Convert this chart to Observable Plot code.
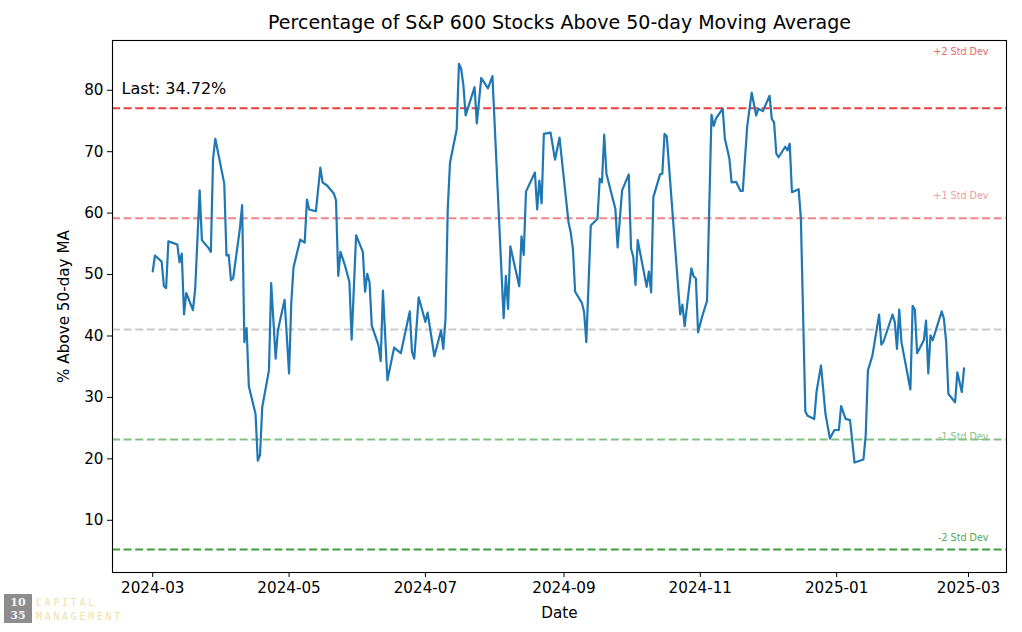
<!DOCTYPE html>
<html>
<head>
<meta charset="utf-8">
<script src="https://cdn.jsdelivr.net/npm/d3@7"></script>
<script src="https://cdn.jsdelivr.net/npm/@observablehq/plot@0.6"></script>
<style>
  html, body { margin: 0; padding: 0; background: #fff; }
  #wrap { position: relative; width: 1022px; height: 632px; overflow: hidden; }
  #logo-box { position: absolute; left: 4px; top: 594px; width: 28px; height: 29px; background: #8d8d8d;
    color: #f4f4f4; font-family: "DejaVu Serif", "Liberation Serif", serif; font-weight: bold; font-size: 11px;
    line-height: 13px; text-align: center; padding-top: 2px; box-sizing: border-box; }
  .logo-txt { position: absolute; left: 36px; font-family: "DejaVu Sans Mono", monospace; font-size: 9.8px;
    letter-spacing: 2.8px; color: #efe0a8; }
</style>
</head>
<body>
<div id="wrap">
  <div id="chart"></div>
  <div id="logo-box">10<br>35</div>
  <div class="logo-txt" style="top:597px">CAPITAL</div>
  <div class="logo-txt" style="top:611px">MANAGEMENT</div>
</div>
<script>
const title = "Percentage of S&P 600 Stocks Above 50-day Moving Average";
const xLabel = "Date";
const yLabel = "% Above 50-day MA";

const dates = [
  "2024-03-01","2024-03-02","2024-03-05","2024-03-06","2024-03-07","2024-03-08","2024-03-12","2024-03-13","2024-03-14","2024-03-15",
  "2024-03-16","2024-03-19","2024-03-20","2024-03-22","2024-03-23","2024-03-26","2024-03-27","2024-03-28","2024-03-29","2024-04-02",
  "2024-04-03","2024-04-04","2024-04-05","2024-04-06","2024-04-09","2024-04-10","2024-04-11","2024-04-12","2024-04-13","2024-04-16",
  "2024-04-17","2024-04-18","2024-04-19","2024-04-22","2024-04-23","2024-04-25","2024-04-26","2024-04-29","2024-05-01","2024-05-02",
  "2024-05-03","2024-05-06","2024-05-08","2024-05-09","2024-05-10","2024-05-13","2024-05-15","2024-05-16","2024-05-18","2024-05-21",
  "2024-05-22","2024-05-23","2024-05-24","2024-05-26","2024-05-28","2024-05-29","2024-05-31","2024-06-03","2024-06-04","2024-06-05",
  "2024-06-06","2024-06-07","2024-06-10","2024-06-11","2024-06-12","2024-06-14","2024-06-17","2024-06-20","2024-06-24","2024-06-25",
  "2024-06-26","2024-06-28","2024-07-01","2024-07-02","2024-07-05","2024-07-08","2024-07-09","2024-07-10","2024-07-11","2024-07-12",
  "2024-07-15","2024-07-16","2024-07-17","2024-07-18","2024-07-19","2024-07-23","2024-07-24","2024-07-26","2024-07-29","2024-07-31",
  "2024-08-03","2024-08-05","2024-08-06","2024-08-07","2024-08-08","2024-08-12","2024-08-13","2024-08-14","2024-08-15","2024-08-19",
  "2024-08-20","2024-08-21","2024-08-22","2024-08-23","2024-08-26","2024-08-28","2024-08-30","2024-09-03","2024-09-04","2024-09-05",
  "2024-09-06","2024-09-09","2024-09-10","2024-09-11","2024-09-13","2024-09-16","2024-09-17","2024-09-18","2024-09-19","2024-09-20",
  "2024-09-23","2024-09-24","2024-09-25","2024-09-27","2024-09-30","2024-10-01","2024-10-02","2024-10-03","2024-10-04","2024-10-08",
  "2024-10-09","2024-10-10","2024-10-11","2024-10-14","2024-10-15","2024-10-16","2024-10-17","2024-10-23","2024-10-24","2024-10-25",
  "2024-10-28","2024-10-29","2024-10-30","2024-10-31","2024-11-02","2024-11-04","2024-11-06","2024-11-07","2024-11-08","2024-11-11",
  "2024-11-12","2024-11-14","2024-11-15","2024-11-17","2024-11-19","2024-11-20","2024-11-22","2024-11-24","2024-11-26","2024-11-27",
  "2024-11-29","2024-12-02","2024-12-03","2024-12-04","2024-12-05","2024-12-06","2024-12-09","2024-12-10","2024-12-11","2024-12-12",
  "2024-12-15","2024-12-16","2024-12-18","2024-12-19","2024-12-22","2024-12-23","2024-12-25","2024-12-27","2024-12-29","2024-12-31",
  "2025-01-02","2025-01-03","2025-01-05","2025-01-07","2025-01-09","2025-01-13","2025-01-14","2025-01-15","2025-01-17","2025-01-20",
  "2025-01-21","2025-01-22","2025-01-26","2025-01-27","2025-01-28","2025-01-29","2025-01-30","2025-02-03","2025-02-04","2025-02-05",
  "2025-02-06","2025-02-09","2025-02-10","2025-02-11","2025-02-12","2025-02-13","2025-02-17","2025-02-18","2025-02-19","2025-02-20",
  "2025-02-23","2025-02-24","2025-02-26","2025-02-27"
];
const values = [
  50.5,53.1,52.1,48.1,47.8,55.4,54.9,52.0,53.4,43.5,
  47.0,44.2,47.7,63.7,55.6,54.3,53.7,68.9,72.1,64.8,
  53.1,53.2,49.1,49.4,57.5,61.3,39.0,41.3,31.8,27.3,
  19.7,20.6,28.4,34.4,48.6,36.3,40.9,45.9,33.9,45.5,
  51.2,55.7,55.2,62.2,60.6,60.3,67.4,65.0,64.5,63.2,
  62.1,49.8,53.7,51.5,48.8,39.4,56.4,53.7,47.2,50.1,
  48.8,41.7,38.5,35.9,47.4,32.8,38.1,37.2,44.0,37.4,
  36.3,46.3,42.3,43.8,36.7,40.9,37.9,42.8,60.7,68.2,
  73.6,84.3,83.5,80.8,75.9,80.5,74.6,82.0,80.3,82.3,
  58.6,42.9,49.8,44.4,54.6,48.1,56.2,53.2,63.5,66.6,
  60.6,65.3,61.6,72.9,73.1,68.7,72.3,58.6,56.9,54.2,
  47.2,45.4,43.9,39.0,58.0,59.1,65.6,65.0,72.8,66.4,
  62.1,60.7,54.4,63.7,66.3,54.2,52.9,48.3,55.6,48.0,
  50.5,47.1,62.6,66.3,66.4,72.9,72.5,43.5,45.1,41.6,
  51.0,49.7,49.4,40.6,43.4,45.7,76.0,74.2,75.4,77.0,
  72.1,68.9,65.0,65.1,63.6,63.6,74.2,79.6,75.9,77.0,
  76.6,79.1,75.3,74.8,69.7,69.1,70.8,70.2,71.3,63.4,
  63.9,59.1,27.7,27.0,26.5,30.9,35.2,27.3,23.3,24.7,
  24.7,28.6,26.5,26.3,19.4,19.9,23.8,34.4,36.8,43.5,
  38.6,39.1,43.5,42.3,37.9,44.3,39.0,31.3,44.9,44.3,
  37.2,39.3,42.5,33.9,40.1,39.3,44.0,42.8,39.0,30.6,
  29.2,34.1,30.9,34.72
];

const levelNames = ["+2 Std Dev", "+1 Std Dev", "Mean", "-1 Std Dev", "-2 Std Dev"];
const levelValues = [77.07, 59.15, 41.07, 23.16, 5.24];
const levelColors = ["#e5403e", "#f08585", "#c9c9c9", "#80c180", "#3f9f3f"];
const labelColors = ["#e46a6a", "#f0a0a0", "#c9c9c9", "#86c386", "#55a855"];

const xTickLabels = ["2024-03","2024-05","2024-07","2024-09","2024-11","2025-01","2025-03"];
const yTicks = [10, 20, 30, 40, 50, 60, 70, 80];

const series = dates.map((d, i) => ({date: new Date(d), value: values[i]}));
const levels = levelNames.map((n, i) => ({name: n, value: levelValues[i], color: levelColors[i], lc: labelColors[i]}));
const lastText = `Last: ${values[values.length - 1].toFixed(2)}%`;

const labelDy = {"+2 Std Dev": -56, "+1 Std Dev": -22, "-1 Std Dev": -3, "-2 Std Dev": -12};

const chart = Plot.plot({
  width: 1022,
  height: 632,
  marginLeft: 112,
  marginRight: 16,
  marginTop: 40,
  marginBottom: 60,
  style: {fontFamily: "DejaVu Sans, sans-serif", fontSize: "15.2px", color: "#000", background: "#fff"},
  x: {type: "utc", domain: [new Date("2024-02-12"), new Date("2025-03-18")]},
  y: {domain: [1.5, 88.1]},
  marks: [
    Plot.ruleY(levels, {y: "value", stroke: "color", strokeWidth: 2, strokeDasharray: "8,3.6"}),
    ...levels.filter(l => l.name !== "Mean").map(l =>
      Plot.text([l], {y: "value", text: "name", frameAnchor: "right", dx: -18, dy: labelDy[l.name],
        textAnchor: "end", fill: l.lc, fontSize: 9.6})
    ),
    Plot.lineY(series, {x: "date", y: "value", stroke: "#1f77b4", strokeWidth: 2.2, strokeLinejoin: "round"}),
    Plot.frame({stroke: "#000", strokeWidth: 1.1}),
    Plot.axisY({ticks: yTicks, tickSize: 5, tickPadding: 4, label: yLabel, labelAnchor: "center", labelArrow: "none", labelOffset: 54}),
    Plot.axisX({ticks: xTickLabels.map(t => new Date(t + "-01")), tickFormat: d3.utcFormat("%Y-%m"), tickSize: 5, tickPadding: 5,
      label: xLabel, labelAnchor: "center", labelArrow: "none", labelOffset: 45}),
    Plot.text([title], {text: d => d, frameAnchor: "top", dy: -18, fontSize: 19, lineAnchor: "middle"}),
    Plot.text([lastText], {text: d => d, frameAnchor: "top-left", dx: 9, dy: 48, textAnchor: "start", fontSize: 16, lineAnchor: "middle"})
  ]
});
document.getElementById("chart").appendChild(chart);
</script>
</body>
</html>
